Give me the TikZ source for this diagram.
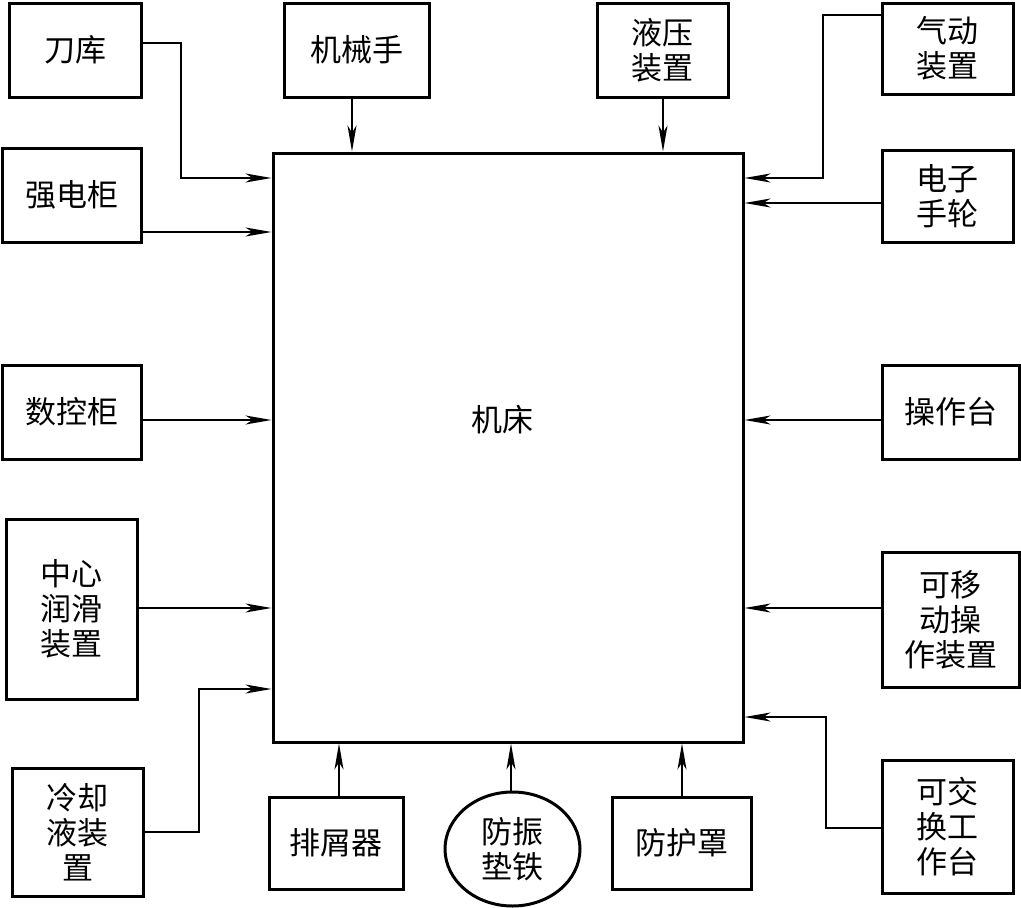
\documentclass[tikz,border=0pt]{standalone}
\usepackage{fontspec}
\setmainfont{Noto Sans CJK SC}
\usetikzlibrary{arrows.meta,shapes.geometric}
\begin{document}
\begin{tikzpicture}[x=1pt,y=-1pt,
  txt/.style={align=center,font=\fontsize{31}{35}\selectfont},
  box/.style={draw,line width=3pt,rectangle,inner sep=0pt,txt},
  oval/.style={draw,line width=3pt,ellipse,inner sep=0pt,txt},
  arr/.style={line width=1.4pt,-{Stealth[length=26pt,width=9pt,inset=7pt]}}]
\useasboundingbox (0,0) rectangle (1021,908);
% main
\node[box,minimum width=470pt,minimum height=589pt] (main) at (508,447.5) {};
\node[txt] (mainlbl) at (502,420) {机床};
% left
\node[box,minimum width=132pt,minimum height=94pt] (dk) at (75,50) {刀库};
\node[box,minimum width=139pt,minimum height=94pt] (qd) at (71.5,195) {强电柜};
\node[box,minimum width=139pt,minimum height=94pt] (sk) at (71.5,412) {数控柜};
\node[box,minimum width=131pt,minimum height=180pt] (zx) at (71.5,609) {中心\\润滑\\装置};
\node[box,minimum width=131pt,minimum height=128pt] (lq) at (77.5,832) {冷却\\液装\\置};
% top
\node[box,minimum width=145pt,minimum height=94pt] (jx) at (356.5,50) {机械手};
\node[box,minimum width=131pt,minimum height=94pt] (yy) at (662.5,50) {液压\\装置};
% right
\node[box,minimum width=131pt,minimum height=91pt] (qdz) at (947.5,48.5) {气动\\装置};
\node[box,minimum width=131pt,minimum height=92pt] (dz) at (947.5,196) {电子\\手轮};
\node[box,minimum width=137pt,minimum height=94pt] (cz) at (950.5,412) {操作台};
\node[box,minimum width=137pt,minimum height=135pt] (ky) at (950.5,619.5) {可移\\动操\\作装置};
\node[box,minimum width=131pt,minimum height=133pt] (kj) at (947.5,826.5) {可交\\换工\\作台};
% bottom
\node[box,minimum width=134pt,minimum height=92pt] (px) at (336,843) {排屑器};
\node[oval,minimum width=135pt,minimum height=114pt] (fz) at (512.5,849) {防振\\垫铁};
\node[box,minimum width=139pt,minimum height=92pt] (fh) at (681.5,843) {防护罩};
% connectors left
\draw[arr] ([yshift=7pt]dk.east) -| (181,178) -- (main.west |- 181,178);
\draw[arr] (qd.east |- 0,232) -- (main.west |- 0,232);
\draw[arr] (sk.east |- 0,420) -- (main.west |- 0,420);
\draw[arr] (zx.east |- 0,608) -- (main.west |- 0,608);
\draw[arr] (lq.east) -| (199,689) -- (main.west |- 199,689);
% top
\draw[arr] (jx.south -| 352,0) -- (main.north -| 352,0);
\draw[arr] (yy.south -| 663,0) -- (main.north -| 663,0);
% right
\draw[arr] (qdz.west |- 0,15) -| (823,178) -- (main.east |- 823,178);
\draw[arr] (dz.west |- 0,203) -- (main.east |- 0,203);
\draw[arr] (cz.west |- 0,420) -- (main.east |- 0,420);
\draw[arr] (ky.west |- 0,608) -- (main.east |- 0,608);
\draw[arr] (kj.west |- 0,828) -| (826,717) -- (main.east |- 826,717);
% bottom
\draw[arr] (px.north -| 339,0) -- (main.south -| 339,0);
\draw[arr] (fz.north -| 511,0) -- (main.south -| 511,0);
\draw[arr] (fh.north -| 682,0) -- (main.south -| 682,0);
\end{tikzpicture}
\end{document}
